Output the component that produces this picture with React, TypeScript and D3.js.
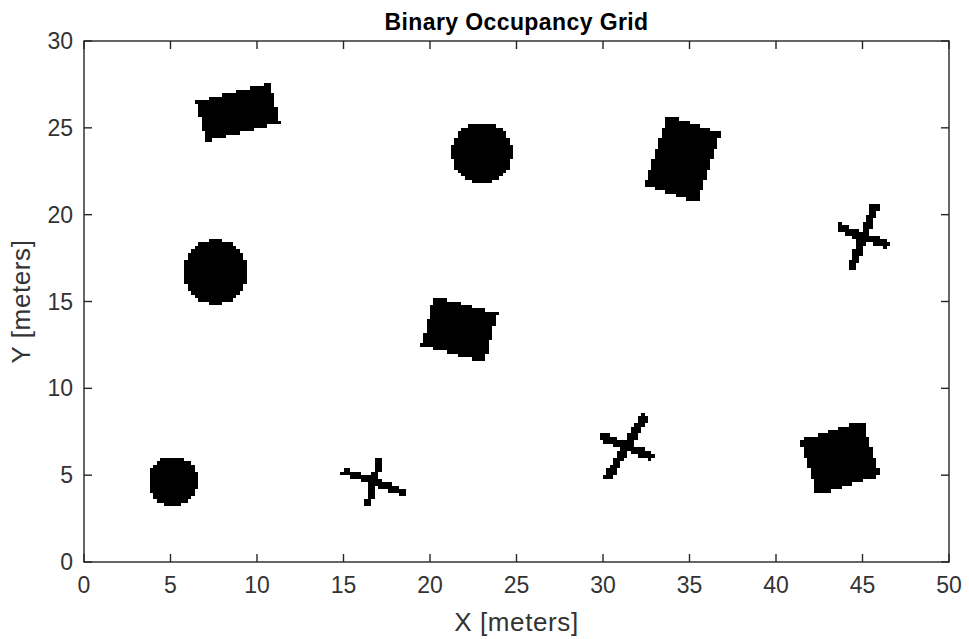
import React from "react";
import * as d3 from "d3";

// Obstacles (meters)
const circleX = [23.0, 7.6, 5.15];
const circleY = [23.55, 16.7, 4.65];
const circleR = [1.75, 1.85, 1.45];

const rectX = [8.9, 34.6, 21.7, 43.7];
const rectY = [25.9, 23.2, 13.4, 6.0];
const rectW = [4.4, 3.2, 3.8, 3.8];
const rectH = [2.4, 4.2, 2.9, 3.3];
const rectAngle = [14, -18, -15, 17];

const crossX = [45.05, 16.75, 31.35];
const crossY = [18.75, 4.62, 6.64];
const crossLen1 = [4.1, 2.9, 4.35];
const crossAngle1 = [69, 76, 59.5];
const crossLen2 = [3.1, 3.9, 3.35];
const crossAngle2 = [-20, -19, -22];
const crossWidth = [0.5, 0.4, 0.5];

const xTicks = [0, 5, 10, 15, 20, 25, 30, 35, 40, 45, 50];
const yTicks = [0, 5, 10, 15, 20, 25, 30];
const resolution = 5; // cells per meter
const worldW = 50;
const worldH = 30;

const W = 969;
const H = 639;
const margin = { left: 84, right: 20, top: 41, bottom: 77 };

function inRect(px: number, py: number, cx: number, cy: number, w: number, h: number, angDeg: number) {
  const a = (angDeg * Math.PI) / 180;
  const dx = px - cx;
  const dy = py - cy;
  const u = dx * Math.cos(a) + dy * Math.sin(a);
  const v = -dx * Math.sin(a) + dy * Math.cos(a);
  return Math.abs(u) <= w / 2 && Math.abs(v) <= h / 2;
}

function occupied(px: number, py: number) {
  for (let i = 0; i < circleX.length; i++) {
    const dx = px - circleX[i];
    const dy = py - circleY[i];
    if (dx * dx + dy * dy <= circleR[i] * circleR[i]) return true;
  }
  for (let i = 0; i < rectX.length; i++) {
    if (inRect(px, py, rectX[i], rectY[i], rectW[i], rectH[i], rectAngle[i])) return true;
  }
  for (let i = 0; i < crossX.length; i++) {
    if (inRect(px, py, crossX[i], crossY[i], crossLen1[i], crossWidth[i], crossAngle1[i])) return true;
    if (inRect(px, py, crossX[i], crossY[i], crossLen2[i], crossWidth[i], crossAngle2[i])) return true;
  }
  return false;
}

export default function App() {
  const x = d3.scaleLinear().domain([0, worldW]).range([margin.left, W - margin.right]);
  const y = d3.scaleLinear().domain([0, worldH]).range([H - margin.bottom, margin.top]);
  const cell = 1 / resolution;

  let path = "";
  const nx = worldW * resolution;
  const ny = worldH * resolution;
  for (let j = 0; j < ny; j++) {
    const cy = (j + 0.5) * cell;
    let start = -1;
    for (let i = 0; i <= nx; i++) {
      const cx = (i + 0.5) * cell;
      const occ = i < nx && occupied(cx, cy);
      if (occ && start < 0) start = i;
      if (!occ && start >= 0) {
        const xa = x(start * cell);
        const xb = x(i * cell);
        const ya = y((j + 1) * cell);
        const yb = y(j * cell);
        path += `M${xa},${ya}H${xb}V${yb}H${xa}Z`;
        start = -1;
      }
    }
  }

  const axisColor = "#262626";
  const textColor = "#333333";
  const font = "'Liberation Sans', Arial, sans-serif";
  const tickLen = 8;
  const x0 = x(0), x1 = x(worldW), y0 = y(0), y1 = y(worldH);

  return (
    <svg width={W} height={H} style={{ position: "absolute", left: 0, top: 0, background: "#fff" }} fontFamily={font}>
      <rect x={0} y={0} width={W} height={H} fill="#fff" />
      <path d={path} fill="#000" shapeRendering="crispEdges" />
      <g stroke={axisColor} strokeWidth={1.4} fill="none">
        <rect x={x0} y={y1} width={x1 - x0} height={y0 - y1} />
        {xTicks.map((t) => (
          <g key={"xt" + t}>
            <line x1={x(t)} x2={x(t)} y1={y0} y2={y0 - tickLen} />
            <line x1={x(t)} x2={x(t)} y1={y1} y2={y1 + tickLen} />
          </g>
        ))}
        {yTicks.map((t) => (
          <g key={"yt" + t}>
            <line x1={x0} x2={x0 + tickLen} y1={y(t)} y2={y(t)} />
            <line x1={x1} x2={x1 - tickLen} y1={y(t)} y2={y(t)} />
          </g>
        ))}
      </g>
      <g fill={textColor} fontSize={23}>
        {xTicks.map((t) => (
          <text key={"xl" + t} x={x(t)} y={y0 + 31} textAnchor="middle">{t}</text>
        ))}
        {yTicks.map((t) => (
          <text key={"yl" + t} x={x0 - 11} y={y(t) + 8} textAnchor="end">{t}</text>
        ))}
        <text x={(x0 + x1) / 2} y={631} textAnchor="middle" fontSize={26} letterSpacing={0.6}>X [meters]</text>
        <text transform={`translate(30,${(y0 + y1) / 2}) rotate(-90)`} textAnchor="middle" fontSize={26} letterSpacing={0.6}>Y [meters]</text>
      </g>
      <text x={(x0 + x1) / 2} y={30} textAnchor="middle" fontWeight="bold" fontSize={23} letterSpacing={0.4} fill="#000">Binary Occupancy Grid</text>
    </svg>
  );
}
